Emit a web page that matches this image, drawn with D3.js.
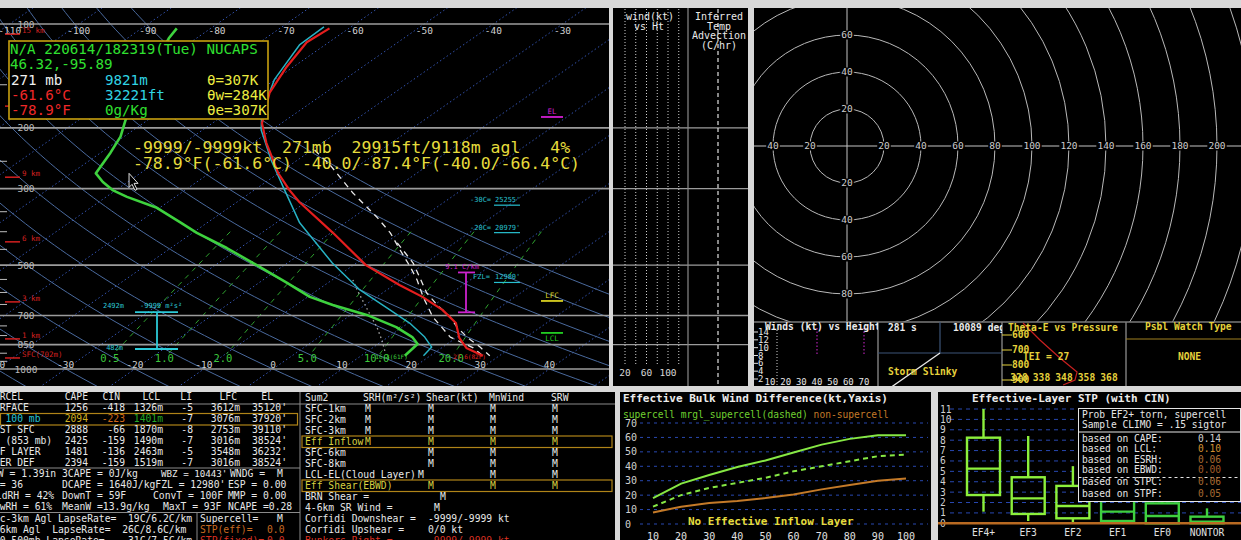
<!DOCTYPE html>
<html>
<head>
<meta charset="utf-8">
<script src="https://cdn.jsdelivr.net/npm/d3@7"></script>
<style>
html,body{margin:0;padding:0;background:#d8d8d8;overflow:hidden;}
text{font-family:"DejaVu Sans Mono",monospace;white-space:pre;}
</style>
</head>
<body>
<svg id="chart" width="1241" height="540"></svg>
<script>
// ---------------- Sounding background ----------------
const isobarLevels = [100, 200, 300, 500, 700, 850, 1000];
const isobarTickLevels = [150, 250, 350, 400, 450, 550, 600, 650, 750, 800, 900, 950];
const isothermValues = d3.range(-120, 61, 10);
const topTempLabels = [-110, -100, -90, -80, -70, -60, -50, -40, -30];
const bottomTempLabels = [-40, -30, -20, -10, 0, 10, 20, 30, 40];
const dryAdiabatThetas = d3.range(-40, 81, 10);
const mixingRatios = [0.5, 1, 2, 5, 10, 20];
const mixingRatioLabels = ["0.5", "1.0", "2.0", "5.0", "10.0", "20.0"];
const heightMarkLabels = ["15 km", "12 km", "9 km", "6 km", "3 km", "1 km", "SFC(702m)"];
const heightMarkPres = [107, 173, 278, 428, 639, 818, 929];

// ---------------- Sounding profiles (hPa, °C) ----------------
const tempPres = [103, 113, 133, 158, 194, 221, 271, 303, 328, 403, 500, 571, 618, 674, 736, 813, 869, 915];
const tempVals = [-62.8, -63.2, -61.0, -58.1, -52.8, -48.1, -40.0, -34.9, -31.0, -19.7, -8.2, 0.8, 6.6, 12.2, 16.9, 20.5, 23.6, 27.6];
const dwptPres = [103, 110, 190, 212, 236, 271, 287, 303, 317, 341, 375, 403, 446, 500, 563, 618, 652, 697, 756, 808, 846, 915];
const dwptVals = [-84.9, -84.0, -73.2, -70.5, -68.6, -66.4, -63.6, -60.5, -57.0, -50.4, -44.1, -39.4, -31.9, -24.0, -15.9, -9.7, -4.7, 2.3, 9.1, 13.5, 15.7, 16.3];
const wetbPres = [102, 115, 145, 181, 203, 248, 303, 377, 493, 590, 674, 736, 808, 864, 915];
const wetbVals = [-63.9, -63.7, -60.1, -55.0, -51.5, -43.8, -35.6, -26.6, -13.5, -3.9, 4.6, 10.2, 15.3, 18.4, 19.0];
const parcelPres = [232, 256, 309, 363, 403, 452, 506, 552, 618, 707, 808, 869, 915];
const parcelVals = [-39.6, -34.3, -25.1, -16.6, -11.4, -6.4, -1.4, 2.3, 6.7, 12.3, 19.0, 24.6, 27.6];
const vParcelPres = [431, 493, 542, 602, 652, 707, 756, 808, 864, 915];
const vParcelVals = [-8.3, -1.8, 2.1, 6.4, 10.4, 14.8, 17.9, 21.4, 25.4, 28.6];
const downPres = [552, 590, 697, 756, 824, 893];
const downVals = [-7.0, -4.3, 2.8, 6.3, 9.7, 12.7];
const sfcPres = 915;
const sfcTempLabel = "27.6(82F)";
const sfcDwptLabel = "16.3(61F)";
const levelNames = ["EL", "LFC", "LCL"];
const levelPres = [186, 635, 786];
const tempLevelLabels = ["-30C=", "-20C=", "FZL="];
const tempLevelHeights = ["25255'", "20979'", "12980'"];
const tempLevelPres = [323, 388, 541];
const lapseLayerPres = [525, 685];
const lapseLayerLabel = "9.1 C/km";
const inflowLayerPres = [684, 875];
const inflowLayerTop = "2492m", inflowLayerBot = "482m", inflowLayerSrh = "-9999 m²s²";

// ---------------- Readouts ----------------
const infoLine1 = "N/A 220614/182319(Tue) NUCAPS";
const infoLine2 = "46.32,-95.89";
const infoCol1 = ["271 mb", "-61.6°C", "-78.9°F"];
const infoCol2 = ["9821m", "32221ft", "0g/Kg"];
const infoCol3 = ["θ=307K", "θw=284K", "θe=307K"];
const readout1 = "-9999/-9999kt  271mb  29915ft/9118m agl   4%";
const readout2 = "-78.9°F(-61.6°C) -40.0/-87.4°F(-40.0/-66.4°C)";

// ---------------- Wind / hodograph ----------------
const windSpeedLines = [20, 40, 60, 80, 100, 120];
const windSpeedLabels = [20, 60, 100];
const windPanelIsobars = [200, 300, 500, 700, 850];
const hodoRings = d3.range(20, 241, 20);
const hodoLabelsRight = [20, 40, 60, 80, 100, 120, 140, 160, 180, 200];
const hodoLabelsLeft = [20, 40];
const hodoLabelsUp = [20, 40, 60];
const hodoLabelsDown = [20, 40, 60, 80];
const whHeights = [14, 12, 10, 8, 6, 4, 2];
const whSpeeds = [10, 20, 30, 40, 50, 60, 70];
const whMarkers = [40, 70];
const thetaEPresLabels = [600, 700, 800, 900];
const thetaETicks = [328, 338, 348, 358, 368];
const thetaEVals = [329.8, 337.3, 346.2, 353.8, 352.9, 347.6];
const thetaEPres = [520, 633, 753, 847, 900, 933];

// ---------------- Parcel table ----------------
const parcelHeaders = ["PARCEL", "CAPE", "CIN", "LCL", "LI", "LFC", "EL"];
const parcelNames = ["SURFACE", "ML 100 mb", "FCST SFC", "MU (853 mb)", "EFF LAYER", "USER DEF"];
const parcelCAPE = ["1256", "2094", "2888", "2425", "1481", "2394"];
const parcelCIN = ["-418", "-223", "-66", "-159", "-136", "-159"];
const parcelLCL = ["1326m", "1401m", "1870m", "1490m", "2463m", "1519m"];
const parcelLI = ["-5", "-7", "-8", "-7", "-5", "-7"];
const parcelLFC = ["3612m", "3076m", "2753m", "3016m", "3548m", "3016m"];
const parcelEL = ["35120'", "37920'", "39110'", "38524'", "36232'", "38524'"];
const thermoCol1 = ["PW = 1.39in", "K = 36", "MidRH = 42%", "LowRH = 61%"];
const thermoCol2 = ["3CAPE = 0J/kg", "DCAPE = 1640J/kgFZL = 12980'", "DownT = 59F", "MeanW =13.9g/kg"];
const thermoCol3 = ["WBZ = 10443'", "", "ConvT = 100F", "MaxT = 93F"];
const thermoCol4 = ["WNDG =", "ESP = 0.00", "MMP = 0.00", "NCAPE =0.28"];
const windexValue = "M";
const lapseLines = ["Sfc-3km Agl LapseRate=  19C/6.2C/km", "3-6km Agl  LapseRate=  26C/8.6C/km", "850-500mb LapseRate=    31C/7.5C/km"];
const severeNames = ["Supercell=", "STP(eff)=", "STP(fixed)="];
const severeVals = ["M", "0.0", "0.0"];

// ---------------- Kinematic table ----------------
const sum2Headers = ["Sum2", "SRH(m²/s²)", "Shear(kt)", "MnWind", "SRW"];
const sum2Labels = ["SFC-1km", "SFC-2km", "SFC-3km", "Eff Inflow", "SFC-6km", "SFC-8km", "LCL-EL(Cloud Layer)", "Eff Shear(EBWD)"];
const sum2SRH = ["M", "M", "M", "M", "", "", "", ""];
const sum2Shear = ["M", "M", "M", "M", "M", "M", "M", "M"];
const sum2MnWind = ["M", "M", "M", "M", "M", "M", "M", "M"];
const sum2SRW = ["M", "M", "M", "M", "M", "M", "M", "M"];
const sum2ExtraLabels = ["BRN Shear =", "4-6km SR Wind =", "Corfidi Downshear =", "Corfidi Upshear =", "Bunkers Right ="];
const sum2ExtraVals = ["M", "M", "-9999/-9999 kt", "0/0 kt", "-9999/-9999 kt"];

// ---------------- Effective bulk wind difference ----------------
const ebwdCats = [10, 20, 30, 40, 50, 60, 70, 80, 90, 100];
const ebwdSupercell = [18, 28, 34, 39.5, 44, 49.5, 55, 59, 61.5, 61.5];
const ebwdMarginal = [12, 20, 25, 28.5, 32, 36.5, 40, 43.5, 47, 48];
const ebwdNonSupercell = [8, 12, 14.5, 16, 18, 20.5, 24, 27, 30, 31.5];
const ebwdTicks = [0, 10, 20, 30, 40, 50, 60, 70];

// ---------------- STP box plots ----------------
const stpCats = ["EF4+", "EF3", "EF2", "EF1", "EF0", "NONTOR"];
const stpMax = [11.0, 8.4, 5.5, 4.6, 3.4, 1.44];
const stpQ3 = [8.24, 4.43, 3.6, 2.8, 1.92, 0.64];
const stpMed = [5.26, 2.4, 1.66, 1.12, 0.7, 0.15];
const stpQ1 = [2.72, 0.9, 0.48, 0.22, 0.0, 0.0];
const stpMin = [1.12, 0.22, 0.06, 0.0, 0.0, 0.0];
const stpTicks = d3.range(0, 12);
const probHead = ["Prob EF2+ torn, supercell", "Sample CLIMO = .15 sigtor"];
const probNames = ["based on CAPE:", "based on LCL:", "based on ESRH:", "based on EBWD:", "based on STPC:", "based on STPF:"];
const probVals = ["0.14", "0.10", "0.06", "0.00", "0.06", "0.05"];

// =====================================================
const svg = d3.select("#chart");
const defs = svg.append("defs");
function clip(id, x, y, w, h) {
  defs.append("clipPath").attr("id", id).append("rect")
    .attr("x", x).attr("y", y).attr("width", w).attr("height", h);
}
clip("skewClip", 0, 8, 609, 378);
clip("hodoClip", 754, 8, 487, 314);
clip("whClip", 754, 322, 124, 64);
clip("slinkyClip", 878, 322, 124, 64);
clip("theClip", 1002, 322, 124, 64);
clip("leftClip", 0, 392, 300, 148);
clip("sumClip", 300, 392, 315, 148);

function panel(x0, y0, x1, y1) {
  svg.append("rect").attr("x", x0).attr("y", y0).attr("width", x1 - x0).attr("height", y1 - y0).attr("fill", "#000");
}
panel(0, 8, 609, 386); panel(613, 8, 748, 386); panel(754, 8, 1241, 386);
panel(0, 392, 615, 540); panel(620, 392, 931, 540); panel(938, 392, 1241, 540);

function txt(parent, x, y, s, fill, size, o = {}) {
  const t = parent.append("text").attr("x", x).attr("y", y).attr("fill", fill)
    .attr("font-size", size).attr("xml:space", "preserve").text(s);
  if (o.anchor) t.attr("text-anchor", o.anchor);
  if (o.bold) t.attr("font-weight", "bold");
  return t;
}
function hline(parent, x1, x2, y, stroke, w, dash) {
  const l = parent.append("line").attr("x1", x1).attr("x2", x2).attr("y1", y).attr("y2", y)
    .attr("stroke", stroke).attr("stroke-width", w);
  if (dash) l.attr("stroke-dasharray", dash);
  return l;
}
function vline(parent, x, y1, y2, stroke, w, dash) {
  const l = parent.append("line").attr("x1", x).attr("x2", x).attr("y1", y1).attr("y2", y2)
    .attr("stroke", stroke).attr("stroke-width", w);
  if (dash) l.attr("stroke-dasharray", dash);
  return l;
}

// ================= Skew-T =================
const yP = d3.scaleLog().domain([1000, 100]).range([369, 24]);
const xT = d3.scaleLinear().domain([0, 10]).range([273, 342.1]);
const SKEW = 1.44;
const px = (T, p) => xT(T) + SKEW * (yP(1000) - yP(p));
const tpLine = d3.line().x(d => px(d[1], d[0])).y(d => yP(d[0]));
const pair = (P, V) => P.map((p, i) => [p, V[i]]);

const sk = svg.append("g").attr("clip-path", "url(#skewClip)");

// isotherms
sk.selectAll(".iso").data(isothermValues).join("line")
  .attr("x1", t => px(t, 1130)).attr("y1", yP(1130))
  .attr("x2", t => px(t, 85)).attr("y2", yP(85))
  .attr("stroke", "#3353b0").attr("stroke-width", 1).attr("stroke-dasharray", "1.5,2.5");

// dry adiabats
const presSteps = d3.range(0, 91).map(i => 1130 * Math.pow(85 / 1130, i / 90));
sk.selectAll(".dry").data(dryAdiabatThetas).join("path")
  .attr("d", th => tpLine(presSteps.map(p => [p, (th + 273.15) * Math.pow(p / 1000, 0.2857) - 273.15])))
  .attr("fill", "none").attr("stroke", "#4a6a9e").attr("stroke-width", 1);

// mixing ratio lines
function tdFromW(w, p) { const e = w * p / (622 + w); const l = Math.log(e / 6.112); return 243.5 * l / (17.67 - l); }
const mrPres = d3.range(0, 31).map(i => 400 + i * (905 - 400) / 30);
sk.selectAll(".mr").data(mixingRatios).join("path")
  .attr("d", w => tpLine(mrPres.map(p => [p, tdFromW(w, p)])))
  .attr("fill", "none").attr("stroke", "#2fa52f").attr("stroke-width", 1).attr("stroke-dasharray", "5,5");
mixingRatios.forEach((w, i) => txt(sk, px(tdFromW(w, 930), 930), 362, mixingRatioLabels[i], "#3cc83c", 10.5, { anchor: "middle" }));

// isobars
isobarLevels.forEach(p => hline(sk, 0, 609, yP(p), "#9c9c9c", 1.6));
isobarTickLevels.forEach(p => hline(sk, 0, 7, yP(p), "#bdbdbd", 1));
isobarLevels.forEach(p => txt(sk, 26, yP(p) + 3.5, String(p), "#b8b8b8", 9.5, { anchor: "middle" }));

// temperature labels
topTempLabels.forEach(t => txt(sk, px(t, 100), 34, String(t), "#cfcfcf", 9.5, { anchor: "middle" }));
bottomTempLabels.forEach(t => txt(sk, px(t, 1000), 368, String(t), "#cfcfcf", 9.5, { anchor: "middle" }));

// height markers
heightMarkPres.forEach((p, i) => {
  hline(sk, 5, 20, yP(p), "#d42020", 1.5);
  txt(sk, 22, yP(p) - 1, heightMarkLabels[i], "#d42020", 7.5);
});

// profiles
function prof(P, V, stroke, w, dash) {
  const path = sk.append("path").attr("d", tpLine(pair(P, V))).attr("fill", "none")
    .attr("stroke", stroke).attr("stroke-width", w).attr("stroke-linejoin", "round");
  if (dash) path.attr("stroke-dasharray", dash);
}
prof(downPres, downVals, "#a8a8a8", 1.3, "1.5,3");
prof(wetbPres, wetbVals, "#27b2c4", 1.5);
prof(vParcelPres, vParcelVals, "#e8e8e8", 1.3, "6,5");
prof(parcelPres, parcelVals, "#e8e8e8", 1.3, "6,5");
prof(dwptPres, dwptVals, "#3ed23e", 2.6);
prof(tempPres, tempVals, "#e41e1e", 2.2);

txt(sk, px(tempVals[tempVals.length - 1], sfcPres) + 3, yP(sfcPres) + 3.5, sfcTempLabel, "#e82020", 6, { anchor: "end" });
txt(sk, px(dwptVals[dwptVals.length - 1], sfcPres) + 3, yP(sfcPres) + 3.5, sfcDwptLabel, "#3ed23e", 6, { anchor: "end" });

// parcel levels
const levelColors = ["#d21ed2", "#d8d020", "#22cc22"];
levelNames.forEach((n, i) => {
  const y = yP(levelPres[i]);
  hline(sk, 541, 563, y, levelColors[i], 1.8);
  txt(sk, 552, n === "LCL" ? y + 8 : y - 3, n, levelColors[i], 7.5, { anchor: "middle" });
});

// temperature level heights
tempLevelLabels.forEach((n, i) => {
  const y = yP(tempLevelPres[i]);
  txt(sk, n === "FZL=" ? 473 : 470, y + 2.5, n, "#28c0d0", 7);
  txt(sk, 495, y + 2.5, tempLevelHeights[i], "#28c0d0", 7);
  hline(sk, 494, 520, y + 5.5, "#28c0d0", 1.2);
});

// lapse-rate layer bracket
{
  const yt = yP(lapseLayerPres[0]), yb = yP(lapseLayerPres[1]);
  vline(sk, 466, yt, yb, "#cc22cc", 1.8);
  hline(sk, 458, 475, yt, "#cc22cc", 1.8);
  hline(sk, 458, 475, yb, "#cc22cc", 1.8);
  txt(sk, 462, yt - 3, lapseLayerLabel, "#cc22cc", 7, { anchor: "middle" });
}
// effective inflow layer bracket
{
  const yt = yP(inflowLayerPres[0]), yb = yP(inflowLayerPres[1]);
  vline(sk, 157, yt, yb, "#2ccad8", 1.8);
  hline(sk, 135, 178, yt, "#2ccad8", 1.8);
  hline(sk, 135, 178, yb, "#2ccad8", 1.8);
  txt(sk, 124, yt - 4, inflowLayerTop, "#2ccad8", 7, { anchor: "end" });
  txt(sk, 140, yt - 4, inflowLayerSrh, "#2ccad8", 7);
  txt(sk, 123, yb + 1, inflowLayerBot, "#2ccad8", 7, { anchor: "end" });
}

// info box
sk.append("rect").attr("x", 9).attr("y", 41).attr("width", 259).attr("height", 78)
  .attr("fill", "#000").attr("stroke", "#c8a010").attr("stroke-width", 1.6);
txt(sk, 10, 54, infoLine1, "#30e030", 14.2);
txt(sk, 10, 69, infoLine2, "#30e030", 14.2);
const col1Colors = ["#f0f0f0", "#f02828", "#f02828"];
const col2Colors = ["#30d4e4", "#30d4e4", "#30e030"];
infoCol1.forEach((s, i) => txt(sk, 11, 85 + 15 * i, s, col1Colors[i], 14.2));
infoCol2.forEach((s, i) => txt(sk, 105, 85 + 15 * i, s, col2Colors[i], 14.2));
infoCol3.forEach((s, i) => txt(sk, 207, 85 + 15 * i, s, "#ecec40", 14.2));

// cursor readout
txt(sk, 133, 152.5, readout1, "#e6dc3c", 16.5);
txt(sk, 133, 169, readout2, "#e6dc3c", 16.5);

// mouse pointer
const cx0 = px(-61.6, 271), cy0 = yP(271);
sk.append("path")
  .attr("d", `M${cx0},${cy0} l0,14 l3,-3 l3,6 l2,-1 l-3,-6 l4,0 Z`)
  .attr("fill", "#000").attr("stroke", "#e0e0e0").attr("stroke-width", 1);

// ================= Wind vs height / temperature advection =================
const wp = svg.append("g");
const xW = d3.scaleLinear().domain([20, 100]).range([625, 668]);
windPanelIsobars.forEach(p => hline(wp, 613, 748, yP(p), "#9c9c9c", 1.4));
vline(wp, 688, 8, 386, "#8a8a8a", 1.2);
windSpeedLines.forEach(s => vline(wp, xW(s), 9, 366, "#cfcfcf", 1, "1,2"));
windSpeedLabels.forEach(s => txt(wp, xW(s), 376, String(s), "#d8d8d8", 9.5, { anchor: "middle" }));
vline(wp, 718, 9, 386, "#e0e0e0", 1.2, "4,3");
txt(wp, 650, 20, "wind(kt)", "#e8e8e8", 10, { anchor: "middle" });
txt(wp, 649, 30, "vs Ht", "#e8e8e8", 10, { anchor: "middle" });
["Inferred", "Temp", "Advection", "(C/hr)"].forEach((s, i) =>
  txt(wp, 719, 20 + 9.5 * i, s, "#e8e8e8", 10, { anchor: "middle" }));

// ================= Hodograph =================
const hg = svg.append("g").attr("clip-path", "url(#hodoClip)");
const hcx = 847, hcy = 146;
const rH = d3.scaleLinear().domain([0, 100]).range([0, 185]);
hg.selectAll("circle").data(hodoRings).join("circle")
  .attr("cx", hcx).attr("cy", hcy).attr("r", v => rH(v))
  .attr("fill", "none").attr("stroke", "#b9b9b9").attr("stroke-width", 1);
hline(hg, 754, 1241, hcy, "#c4c4c4", 1);
vline(hg, hcx, 8, 322, "#c4c4c4", 1);
function hodoLabel(x, y, v) {
  const s = String(v);
  hg.append("rect").attr("x", x - s.length * 2.9 - 1).attr("y", y - 4.5)
    .attr("width", s.length * 5.8 + 2).attr("height", 9).attr("fill", "#000");
  txt(hg, x, y + 3.3, s, "#cdcdcd", 9.5, { anchor: "middle" });
}
hodoLabelsRight.forEach(v => hodoLabel(hcx + rH(v), hcy, v));
hodoLabelsLeft.forEach(v => hodoLabel(hcx - rH(v), hcy, v));
hodoLabelsUp.forEach(v => hodoLabel(hcx, hcy - rH(v), v));
hodoLabelsDown.forEach(v => hodoLabel(hcx, hcy + rH(v), v));

// ================= Small panels below hodograph =================
const sp = svg.append("g");
hline(sp, 754, 1241, 322, "#7a7a7a", 1.5);
[878, 1002, 1126].forEach(x => vline(sp, x, 322, 386, "#7a7a7a", 1.5));

// winds vs height
const wh = svg.append("g").attr("clip-path", "url(#whClip)");
const yWH = d3.scaleLinear().domain([2, 14]).range([379, 332]);
const xWH = d3.scaleLinear().domain([10, 70]).range([770, 864]);
vline(wh, 777, 330, 386, "#d0d0d0", 1, "1,2");
whMarkers.forEach(s => vline(wh, xWH(s), 328, 355, "#b020b0", 1.2, "1.5,2"));
whHeights.forEach(h => {
  hline(wh, 754, 758, yWH(h), "#e0e0e0", 1);
  txt(wh, 758, yWH(h) + 3, String(h), "#e6e6e6", 9);
});
whSpeeds.forEach(s => txt(wh, xWH(s), 385, String(s), "#e6e6e6", 9, { anchor: "middle" }));
txt(wh, 765, 330, "Winds (kt) vs Height", "#ececec", 9.6, { bold: true });

// storm slinky
const sl = svg.append("g").attr("clip-path", "url(#slinkyClip)");
hline(sl, 878, 1002, 353, "#3d5578", 1.2);
vline(sl, 940, 322, 353, "#3d5578", 1.2);
sl.append("line").attr("x1", 890).attr("y1", 388).attr("x2", 940).attr("y2", 353)
  .attr("stroke", "#e8e8e8").attr("stroke-width", 1.3);
txt(sl, 888, 331, "281 s", "#ececec", 9.6, { bold: true });
txt(sl, 953, 331, "10089 deg", "#ececec", 9.6, { bold: true });
txt(sl, 888, 375, "Storm Slinky", "#e6d23c", 9.6, { bold: true });

// theta-e vs pressure
const te = svg.append("g").attr("clip-path", "url(#theClip)");
const yTE = d3.scaleLinear().domain([600, 900]).range([335, 380]);
const xTE = d3.scaleLinear().domain([328, 368]).range([1019, 1109]);
thetaEPresLabels.forEach(p => {
  hline(te, 1002, 1012, yTE(p), "#e6d23c", 1);
  txt(te, 1012, yTE(p) + 3.3, String(p), "#e6d23c", 9.6, { bold: true });
});
te.append("path").attr("d", d3.line().x((d, i) => xTE(d)).y((d, i) => yTE(thetaEPres[i]))(thetaEVals))
  .attr("fill", "none").attr("stroke", "#c82020").attr("stroke-width", 1.2);
txt(te, 1023, 360, "TEI = 27", "#e6d23c", 9.6, { bold: true });
thetaETicks.forEach(v => txt(te, xTE(v), 381, String(v), "#e6d23c", 9.6, { anchor: "middle", bold: true }));
txt(te, 1008, 331, "Theta-E vs Pressure", "#e6d23c", 9.6, { bold: true });

// possible watch type
hline(sp, 1126, 1241, 339, "#a08020", 1.2);
txt(sp, 1145, 330, "Psbl Watch Type", "#e6d23c", 9.6, { bold: true });
txt(sp, 1178, 360, "NONE", "#e6d23c", 9.6, { bold: true });

// ================= Parcel / thermodynamic table =================
const FS = 9.7;
const lt = svg.append("g").attr("clip-path", "url(#leftClip)");
const WHITE = "#e8e8e8";
const rowY = i => 400 + 11 * i;
txt(lt, -12, rowY(0), parcelHeaders[0], WHITE, FS);
const headerEnds = [88, 120, 160, 192, 237, 273];
parcelHeaders.slice(1).forEach((h, i) => txt(lt, headerEnds[i], rowY(0), h, WHITE, FS, { anchor: "end" }));
hline(lt, 0, 300, 404, "#8a8a8a", 1);
lt.append("rect").attr("x", 0.5).attr("y", 413.5).attr("width", 297).attr("height", 11.5)
  .attr("fill", "none").attr("stroke", "#b08418").attr("stroke-width", 1.2);
const colEnds = [88, 125, 163, 193, 240, 287];
const cols = [parcelCAPE, parcelCIN, parcelLCL, parcelLI, parcelLFC, parcelEL];
parcelNames.forEach((n, r) => {
  const y = rowY(r + 1);
  const ml = r === 1;
  txt(lt, -12, y, n, ml ? "#28c4d4" : WHITE, FS);
  cols.forEach((c, k) => {
    let col = WHITE;
    if (ml && k === 0) col = "#d0b020";
    if (ml && k === 1) col = "#d06818";
    if (ml && k === 2) col = "#24a824";
    txt(lt, colEnds[k], y, c[r], col, FS, { anchor: "end" });
  });
});
hline(lt, 0, 300, 468, "#8a8a8a", 1);
const col1X = [-8, -12, -10, -12];
thermoCol1.forEach((s, i) => txt(lt, col1X[i], 477 + 11 * i, s, WHITE, FS));
thermoCol2.forEach((s, i) => txt(lt, 62, 477 + 11 * i, s, WHITE, FS));
const col3X = [161, 163, 153, 163];
thermoCol3.forEach((s, i) => txt(lt, col3X[i], 477 + 11 * i, s, WHITE, i === 0 ? 9.2 : FS));
thermoCol4.forEach((s, i) => txt(lt, i === 0 ? 230 : 228, 477 + 11 * i, s, WHITE, FS));
txt(lt, 277, 477, windexValue, WHITE, FS);
hline(lt, 0, 300, 512.5, "#8a8a8a", 1);
vline(lt, 197, 512.5, 540, "#8a8a8a", 1);
lapseLines.forEach((s, i) => txt(lt, -12, 521.5 + 11 * i, s, WHITE, FS));
const sevColors = [WHITE, "#c86a20", "#d83020"];
const sevValX = [277, 267, 267];
severeNames.forEach((s, i) => {
  txt(lt, 200, 521.5 + 11 * i, s, sevColors[i], FS);
  txt(lt, sevValX[i], 521.5 + 11 * i, severeVals[i], sevColors[i], FS);
});
vline(svg, 300, 392, 540, "#8a8a8a", 1);

// ================= Kinematic table =================
const kt = svg.append("g").attr("clip-path", "url(#sumClip)");
const sumX = [305, 363, 426, 489, 551];
sum2Headers.forEach((h, i) => txt(kt, sumX[i], 400.5, h, WHITE, FS));
hline(kt, 300, 615, 404, "#8a8a8a", 1);
const sumRowY = i => 411.5 + 11 * i;
[3, 7].forEach(r => kt.append("rect").attr("x", 302).attr("y", sumRowY(r) - 8.5)
  .attr("width", 310).attr("height", 11.5).attr("fill", "none")
  .attr("stroke", "#b08418").attr("stroke-width", 1.2));
sum2Labels.forEach((n, r) => {
  const col = (r === 3 || r === 7) ? "#d8d040" : WHITE;
  const y = sumRowY(r);
  txt(kt, 305, y, n, col, FS);
  txt(kt, 365, y, sum2SRH[r], col, FS);
  txt(kt, r === 6 ? 418 : 428, y, sum2Shear[r], col, FS);
  txt(kt, 490, y, sum2MnWind[r], col, FS);
  txt(kt, 552, y, sum2SRW[r], col, FS);
});
const extraValX = [440, 434, 428, 428, 428];
sum2ExtraLabels.forEach((n, i) => {
  const col = i === 4 ? "#d83020" : WHITE;
  txt(kt, 305, 499.5 + 11 * i, n, col, FS);
  txt(kt, extraValX[i], 499.5 + 11 * i, sum2ExtraVals[i], col, FS);
});

// ================= Effective bulk wind difference =================
const eb = svg.append("g");
const xE = d3.scaleLinear().domain([10, 100]).range([653, 906]);
const yE = d3.scaleLinear().domain([0, 70]).range([524, 423]);
ebwdTicks.forEach(v => {
  hline(eb, 640, 928, yE(v), "#2848b0", 1, "3,4");
  txt(eb, 625, yE(v) + 3.5, String(v), "#d0d0d0", 10);
});
ebwdCats.forEach(v => txt(eb, xE(v), 539.5, String(v), "#e0e0e0", 10, { anchor: "middle" }));
const ebLine = vals => d3.line().x((d, i) => xE(ebwdCats[i])).y(d => yE(d))(vals);
eb.append("path").attr("d", ebLine(ebwdNonSupercell)).attr("fill", "none").attr("stroke", "#c47a28").attr("stroke-width", 2);
eb.append("path").attr("d", ebLine(ebwdMarginal)).attr("fill", "none").attr("stroke", "#86e844").attr("stroke-width", 2).attr("stroke-dasharray", "5,4");
eb.append("path").attr("d", ebLine(ebwdSupercell)).attr("fill", "none").attr("stroke", "#86e844").attr("stroke-width", 2);
txt(eb, 623, 402, "Effective Bulk Wind Difference(kt,Yaxis)", "#ececec", 11, { bold: true });
const leg = eb.append("text").attr("x", 623).attr("y", 417.5).attr("font-size", 9.6);
leg.append("tspan").attr("fill", "#70d030").text("supercell mrgl_supercell(dashed) ");
leg.append("tspan").attr("fill", "#c47a28").text("non-supercell");
txt(eb, 688, 525, "No Effective Inflow Layer", "#e6dc3c", 11, { bold: true });

// ================= STP box plots =================
const st = svg.append("g");
const xS = d3.scalePoint().domain(stpCats).range([983.5, 1207]);
const yS = d3.scaleLinear().domain([0, 11]).range([523.3, 409]);
stpTicks.slice(1).forEach(v => hline(st, 950, 1241, yS(v), "#2848b0", 1, "4,4"));
stpTicks.forEach(v => txt(st, 940, yS(v) + 3.5, String(v), "#d0d0d0", 9.6));
stpCats.forEach((c, i) => {
  const x = xS(c), col = i < 3 ? "#8cf03c" : "#3fd03f";
  const bw = 33;
  vline(st, x, yS(stpMax[i]), yS(stpQ3[i]), col, 2.4);
  vline(st, x, yS(stpQ1[i]), yS(stpMin[i]), col, 2.4);
  st.append("rect").attr("x", x - bw / 2).attr("y", yS(stpQ3[i]))
    .attr("width", bw).attr("height", yS(stpQ1[i]) - yS(stpQ3[i]))
    .attr("fill", "none").attr("stroke", col).attr("stroke-width", 2.4);
  hline(st, x - bw / 2, x + bw / 2, yS(stpMed[i]), col, 2.4);
  txt(st, x, 536, c, "#e0e0e0", 9.6, { anchor: "middle" });
});
hline(st, 938, 1241, yS(0), "#b86a22", 2.6);
txt(st, 972, 402, "Effective-Layer STP (with CIN)", "#ececec", 11, { bold: true });
st.append("rect").attr("x", 1078.5).attr("y", 408.5).attr("width", 162).attr("height", 93)
  .attr("fill", "#000").attr("stroke", "#e6e6e6").attr("stroke-width", 1);
probHead.forEach((s, i) => txt(st, 1082, 417.5 + 10 * i, s, "#e6e6e6", 9.6));
hline(st, 1078.5, 1240.5, 432, "#e6e6e6", 1);
hline(st, 1078.5, 1240.5, 477.5, "#e6e6e6", 1, "3,3");
const probY = [441.5, 452, 462.5, 473, 485, 496.5];
const probColors = ["#cfcfcf", "#d09030", "#a86a30", "#a05a28", "#a86a30", "#a86a30"];
probNames.forEach((s, i) => {
  txt(st, 1082, probY[i], s, "#e6e6e6", 9.6);
  txt(st, 1198, probY[i], probVals[i], probColors[i], 9.6);
});
</script>
</body>
</html>
